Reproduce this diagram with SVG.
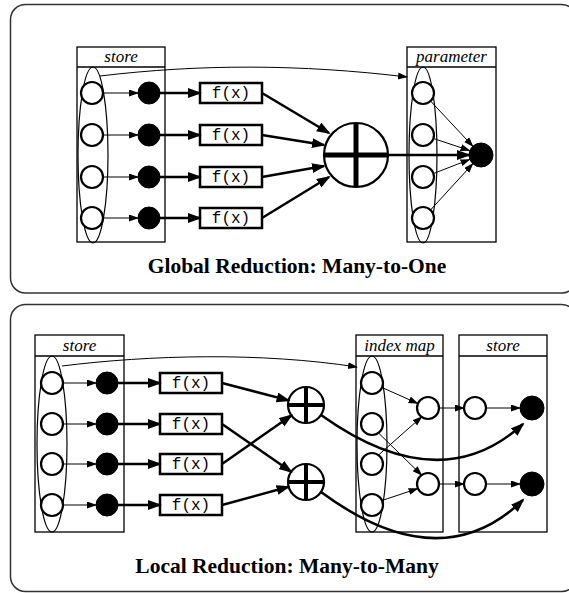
<svg xmlns="http://www.w3.org/2000/svg" width="569" height="593" viewBox="0 0 569 593">
<defs>
<style>
.panel{fill:none;stroke:#333;stroke-width:1.5}
.box{fill:#fff;stroke:#000;stroke-width:1.3}
.hdr{stroke:#000;stroke-width:1.3}
.lbl{font-family:"Liberation Serif","Times New Roman",serif;font-style:italic;font-size:17px;text-anchor:middle;fill:#000}
.ell{fill:none;stroke:#000;stroke-width:1.2}
.hol{fill:#fff;stroke:#000;stroke-width:2.2}
.fil{fill:#000;stroke:#000;stroke-width:1}
.fx{fill:#fff;stroke:#000;stroke-width:2.5}
.fxt{font-family:"Liberation Mono","Courier New",monospace;font-size:16px;text-anchor:middle;fill:#000}
.thin{fill:none;stroke:#000;stroke-width:1;marker-end:url(#ah)}
.thick{fill:none;stroke:#000;stroke-width:2.5;marker-end:url(#ahb)}
.plus{fill:#fff;stroke:#000;stroke-width:2.2}
.pl{stroke:#000;stroke-width:5}
.pls{stroke:#000;stroke-width:4}
.title{font-family:"Liberation Serif","Times New Roman",serif;font-weight:bold;font-size:21.5px;text-anchor:middle;fill:#000}
</style>
<marker id="ah" markerUnits="userSpaceOnUse" markerWidth="12" markerHeight="10" refX="9" refY="3.5" orient="auto"><path d="M0,0 L10,3.5 L0,7 z" fill="#000"/></marker>
<marker id="ahb" markerUnits="userSpaceOnUse" markerWidth="16" markerHeight="12" refX="12" refY="5" orient="auto"><path d="M0,0 L14,5 L0,10 z" fill="#000"/></marker>
</defs>

<!-- Top panel -->
<g id="panel-global">
<rect class="panel" x="10.5" y="4.5" width="566" height="288.5" rx="15"/>
<text class="title" x="297" y="273">Global Reduction: Many-to-One</text>
</g>

<g id="store-top">
<rect class="box" x="77" y="47" width="88" height="195"/>
<line class="hdr" x1="77" y1="67" x2="165" y2="67"/>
<text class="lbl" x="121" y="62">store</text>
<ellipse class="ell" cx="93" cy="155" rx="15" ry="88"/>
<circle class="hol" cx="92" cy="93" r="11"/>
<circle class="hol" cx="92" cy="135" r="11"/>
<circle class="hol" cx="92" cy="177" r="11"/>
<circle class="hol" cx="92" cy="218" r="11"/>
</g>

<g id="mapped-top">
<circle class="fil" cx="149" cy="93" r="11"/>
<circle class="fil" cx="149" cy="135" r="11"/>
<circle class="fil" cx="149" cy="177" r="11"/>
<circle class="fil" cx="149" cy="218" r="11"/>
</g>

<g id="fx-top">
<rect class="fx" x="200" y="83" width="62" height="20"/>
<text class="fxt" x="231" y="98">f(x)</text>
<rect class="fx" x="200" y="125" width="62" height="20"/>
<text class="fxt" x="231" y="140">f(x)</text>
<rect class="fx" x="200" y="167" width="62" height="20"/>
<text class="fxt" x="231" y="182">f(x)</text>
<rect class="fx" x="200" y="208" width="62" height="20"/>
<text class="fxt" x="231" y="223">f(x)</text>
</g>

<g id="sum-top">
<circle class="plus" cx="356" cy="155" r="32"/>
<line class="pl" x1="324" y1="155" x2="388" y2="155"/>
<line class="pl" x1="356" y1="123" x2="356" y2="187"/>
</g>

<g id="parameter">
<rect class="box" x="407" y="47" width="89" height="195"/>
<line class="hdr" x1="407" y1="67" x2="496" y2="67"/>
<text class="lbl" x="451.5" y="62">parameter</text>
<ellipse class="ell" cx="423" cy="155" rx="14" ry="88"/>
<circle class="hol" cx="423" cy="93" r="11"/>
<circle class="hol" cx="423" cy="135" r="11"/>
<circle class="hol" cx="423" cy="177" r="11"/>
<circle class="hol" cx="423" cy="218" r="11"/>
<circle class="fil" cx="481" cy="155" r="12"/>
</g>

<g id="connectors-top">
<path class="thin" d="M103,93 H138"/>
<path class="thin" d="M103,135 H138"/>
<path class="thin" d="M103,177 H138"/>
<path class="thin" d="M103,218 H138"/>
<path class="thick" d="M160,93 H200"/>
<path class="thick" d="M160,135 H200"/>
<path class="thick" d="M160,177 H200"/>
<path class="thick" d="M160,218 H200"/>
<path class="thick" d="M262,93 L329,133"/>
<path class="thick" d="M262,135 L324,145"/>
<path class="thick" d="M262,177 L324,166"/>
<path class="thick" d="M262,218 L329,177"/>
<path class="thick" d="M388,155 L469,155"/>
<path class="thin" d="M430.5,101 L472.8,146.2"/>
<path class="thin" d="M433.5,138.5 L469.5,150.5"/>
<path class="thin" d="M433.5,173.5 L469.5,159.5"/>
<path class="thin" d="M430.5,210 L472.8,163.8"/>
<path class="thin" d="M100,76 C200,64 300,64 407,77"/>
</g>

<!-- Bottom panel -->
<g id="panel-local">
<rect class="panel" x="10.5" y="304.5" width="566" height="287" rx="15"/>
<text class="title" x="287" y="573">Local Reduction: Many-to-Many</text>
</g>

<g id="store-bottom">
<rect class="box" x="35" y="335" width="89" height="197"/>
<line class="hdr" x1="35" y1="356" x2="124" y2="356"/>
<text class="lbl" x="79.5" y="351">store</text>
<ellipse class="ell" cx="52" cy="444" rx="15" ry="88"/>
<circle class="hol" cx="52" cy="383" r="11"/>
<circle class="hol" cx="52" cy="424" r="11"/>
<circle class="hol" cx="52" cy="464" r="11"/>
<circle class="hol" cx="52" cy="505" r="11"/>
</g>

<g id="mapped-bottom">
<circle class="fil" cx="107" cy="383" r="11"/>
<circle class="fil" cx="107" cy="424" r="11"/>
<circle class="fil" cx="107" cy="464" r="11"/>
<circle class="fil" cx="107" cy="505" r="11"/>
</g>

<g id="fx-bottom">
<rect class="fx" x="160" y="373" width="62" height="20"/>
<text class="fxt" x="191" y="388">f(x)</text>
<rect class="fx" x="160" y="414" width="62" height="20"/>
<text class="fxt" x="191" y="429">f(x)</text>
<rect class="fx" x="160" y="454" width="62" height="20"/>
<text class="fxt" x="191" y="469">f(x)</text>
<rect class="fx" x="160" y="495" width="62" height="20"/>
<text class="fxt" x="191" y="510">f(x)</text>
</g>

<g id="sum-bottom-1">
<circle class="plus" cx="306" cy="405" r="18"/>
<line class="pls" x1="288" y1="405" x2="324" y2="405"/>
<line class="pls" x1="306" y1="387" x2="306" y2="423"/>
</g>
<g id="sum-bottom-2">
<circle class="plus" cx="306" cy="482" r="18"/>
<line class="pls" x1="288" y1="482" x2="324" y2="482"/>
<line class="pls" x1="306" y1="464" x2="306" y2="500"/>
</g>

<g id="index-map">
<rect class="box" x="356" y="335" width="87" height="197"/>
<line class="hdr" x1="356" y1="356" x2="443" y2="356"/>
<text class="lbl" x="399.5" y="351">index map</text>
<ellipse class="ell" cx="372" cy="444" rx="15" ry="88"/>
<circle class="hol" cx="372" cy="383" r="11"/>
<circle class="hol" cx="372" cy="424" r="11"/>
<circle class="hol" cx="372" cy="464" r="11"/>
<circle class="hol" cx="372" cy="505" r="11"/>
<circle class="hol" cx="428" cy="408" r="11"/>
<circle class="hol" cx="428" cy="484" r="11"/>
</g>

<g id="store-out">
<rect class="box" x="459" y="335" width="88" height="197"/>
<line class="hdr" x1="459" y1="356" x2="547" y2="356"/>
<text class="lbl" x="503" y="351">store</text>
<circle class="hol" cx="475" cy="408" r="11"/>
<circle class="hol" cx="475" cy="484" r="11"/>
<circle class="fil" cx="532" cy="408" r="12"/>
<circle class="fil" cx="532" cy="484" r="12"/>
</g>

<g id="connectors-bottom">
<path class="thin" d="M63,383 H96"/>
<path class="thin" d="M63,424 H96"/>
<path class="thin" d="M63,464 H96"/>
<path class="thin" d="M63,505 H96"/>
<path class="thick" d="M118,383 H160"/>
<path class="thick" d="M118,424 H160"/>
<path class="thick" d="M118,464 H160"/>
<path class="thick" d="M118,505 H160"/>
<path class="thick" d="M222,383 L288.6,400.4"/>
<path class="thick" d="M222,424 L291.2,471.8"/>
<path class="thick" d="M222,464 L291.3,415.4"/>
<path class="thick" d="M222,505 L288.6,486.8"/>
<path class="thick" d="M321,415 Q440,500 523,424"/>
<path class="thick" d="M321,492 Q440,580 523,500"/>
<path class="thin" d="M382,387.5 L417.6,403.4"/>
<path class="thin" d="M378.4,432.9 L421.6,475.1"/>
<path class="thin" d="M378.4,455.1 L421.6,416.9"/>
<path class="thin" d="M382,500.5 L417.6,488.6"/>
<path class="thin" d="M439,408 H464"/>
<path class="thin" d="M439,484 H464"/>
<path class="thin" d="M486,408 H520"/>
<path class="thin" d="M486,484 H520"/>
<path class="thin" d="M62,366 C150,355 260,352 357,367"/>
</g>
</svg>
